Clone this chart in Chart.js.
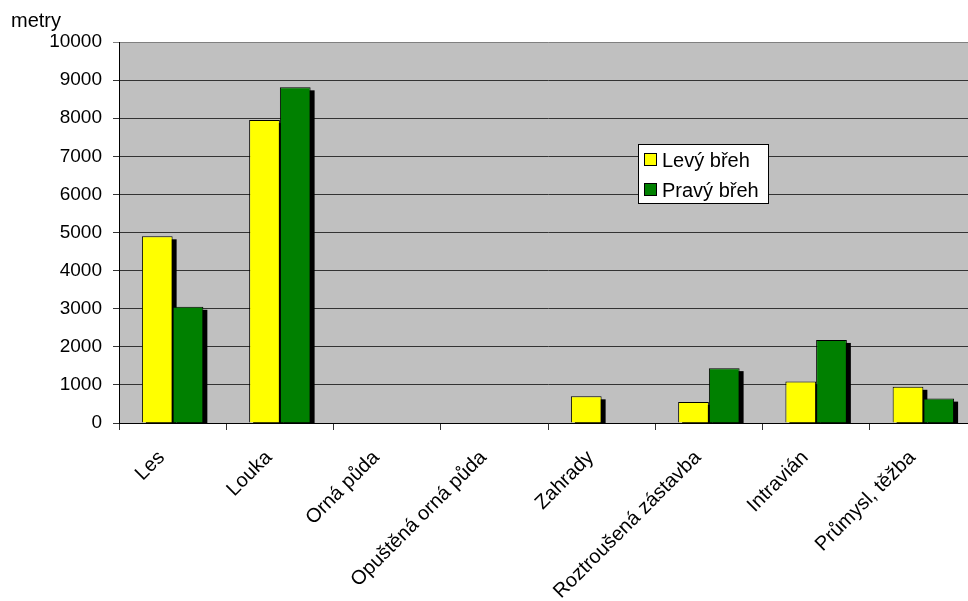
<!DOCTYPE html>
<html>
<head>
<meta charset="utf-8">
<script src="https://cdn.jsdelivr.net/npm/chart.js@4.4.1/dist/chart.umd.min.js"></script>
<style>
  html, body { margin: 0; padding: 0; background: #fff; overflow: hidden; }
  #wrap { width: 990px; height: 601px; }
</style>
</head>
<body>
<div id="wrap"><canvas id="c" width="990" height="601"></canvas></div>
<script>
const categories = ["Les", "Louka", "Orná půda", "Opuštěná orná půda", "Zahrady", "Roztroušená zástavba", "Intravián", "Průmysl, těžba"];
const seriesNames = ["Levý břeh", "Pravý břeh"];
const levyBreh = [4900, 7950, 0, 0, 700, 550, 1090, 950];
const pravyBreh = [3050, 8810, 0, 0, 0, 1440, 2180, 640];
const yTicks = [0, 1000, 2000, 3000, 4000, 5000, 6000, 7000, 8000, 9000, 10000];
const unitLabel = "metry";

const FONT = "'Liberation Sans', Arial, sans-serif";
const colors = ["#FFFF00", "#008000"];

const plotBg = {
  id: 'plotBg',
  beforeDraw(chart) {
    const { ctx, chartArea: a } = chart;
    ctx.save();
    ctx.fillStyle = '#C0C0C0';
    ctx.fillRect(a.left, a.top, a.right - a.left, a.bottom - a.top);
    ctx.restore();
  }
};

const barShadow = {
  id: 'barShadow',
  beforeDatasetsDraw(chart) {
    const { ctx, chartArea: a } = chart;
    ctx.save();
    ctx.beginPath();
    ctx.rect(a.left, a.top, a.right - a.left + 10, a.bottom - a.top);
    ctx.clip();
    ctx.fillStyle = '#000';
    chart.data.datasets.forEach((ds, i) => {
      const meta = chart.getDatasetMeta(i);
      meta.data.forEach((bar, j) => {
        if (!ds.data[j]) return;
        const p = bar.getProps(['x', 'y', 'base', 'width'], true);
        const left = p.x - p.width / 2 + 4;
        ctx.fillRect(left, p.y + 3, p.width, p.base - p.y);
      });
    });
    ctx.restore();
  }
};

const extras = {
  id: 'extras',
  afterDraw(chart) {
    const { ctx } = chart;
    ctx.save();
    ctx.fillStyle = '#000';
    ctx.font = '20px ' + FONT;
    ctx.textAlign = 'left';
    ctx.textBaseline = 'alphabetic';
    ctx.fillText(unitLabel, 11, 27);
    const bx = 638.5, by = 144.5, bw = 130, bh = 59;
    ctx.fillStyle = '#fff';
    ctx.fillRect(bx, by, bw, bh);
    ctx.strokeStyle = '#000';
    ctx.lineWidth = 1;
    ctx.strokeRect(bx, by, bw, bh);
    seriesNames.forEach((name, i) => {
      const sy = 153.5 + i * 30;
      ctx.fillStyle = colors[i];
      ctx.fillRect(644.5, sy, 12, 12);
      ctx.strokeStyle = '#000';
      ctx.strokeRect(644.5, sy, 12, 12);
      ctx.fillStyle = '#000';
      ctx.font = '20px ' + FONT;
      ctx.fillText(name, 662, 167 + i * 29.5);
    });
    ctx.restore();
  }
};

new Chart(document.getElementById('c'), {
  type: 'bar',
  data: {
    labels: categories,
    datasets: [
      { label: seriesNames[0], data: levyBreh, backgroundColor: colors[0], borderColor: '#000', borderWidth: 1, borderSkipped: 'start' },
      { label: seriesNames[1], data: pravyBreh, backgroundColor: colors[1], borderColor: '#000', borderWidth: 1, borderSkipped: 'start' }
    ]
  },
  options: {
    responsive: false,
    animation: false,
    devicePixelRatio: 1,
    layout: { padding: { top: 42, right: 13, bottom: 0, left: 0 } },
    datasets: { bar: { categoryPercentage: 0.573, barPercentage: 1.0 } },
    plugins: {
      legend: { display: false },
      tooltip: { enabled: false },
      title: { display: false }
    },
    scales: {
      x: {
        offset: true,
        grid: { display: true, drawOnChartArea: false, drawTicks: true, tickLength: 7, color: '#333', offset: true },
        border: { display: true, color: '#000', width: 1 },
        ticks: { color: '#000', font: { family: FONT, size: 20 }, maxRotation: 45, minRotation: 45, padding: 16, labelOffset: -11, autoSkip: false },
        afterFit(scale) { scale.height = 178; }
      },
      y: {
        min: 0, max: 10000,
        afterBuildTicks(scale) { scale.ticks = yTicks.map(v => ({ value: v })); },
        grid: {
          color: (c) => (c.tick && c.tick.value === 10000) ? '#808080' : '#333',
          tickLength: 6, drawTicks: true
        },
        border: { display: true, color: '#000', width: 1 },
        ticks: { color: '#000', font: { family: FONT, size: 19 }, padding: 11, callback: (v) => String(v) },
        afterFit(scale) { scale.width = 119; }
      }
    }
  },
  plugins: [plotBg, barShadow, extras]
});
</script>
</body>
</html>
